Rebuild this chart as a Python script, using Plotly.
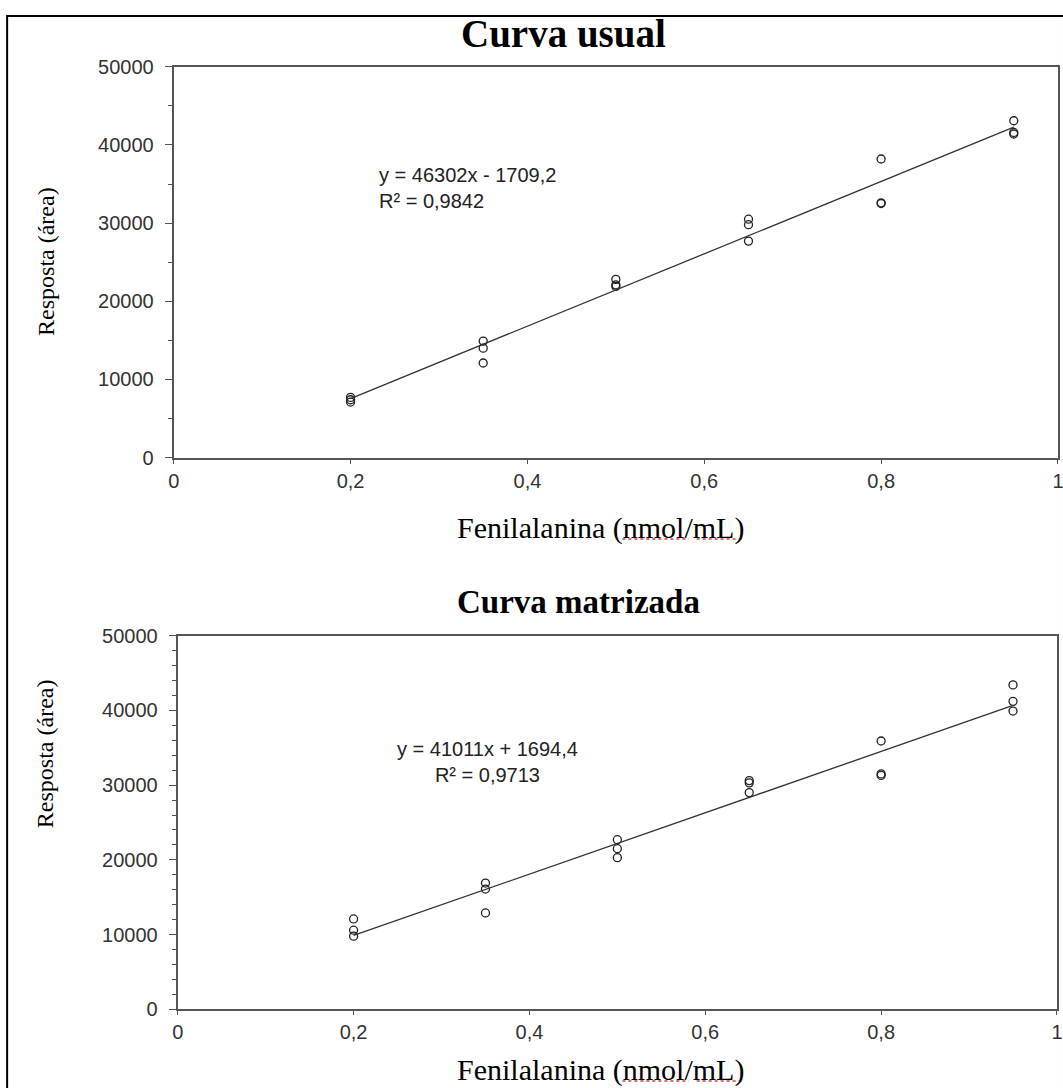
import plotly.graph_objects as go

# ---- data ----
conc_usual = [0.2, 0.2, 0.2, 0.35, 0.35, 0.35, 0.5, 0.5, 0.5, 0.65, 0.65, 0.65, 0.8, 0.8, 0.8, 0.95, 0.95, 0.95]
resp_usual = [7700, 7400, 7100, 14900, 14000, 12100, 22800, 22100, 21900, 30500, 29800, 27700, 38200, 32600, 32500, 43100, 41600, 41400]
slope_usual, icpt_usual = 46302, -1709.2
eq_usual = "y = 46302x - 1709,2<br>R² = 0,9842"

conc_matr = [0.2, 0.2, 0.2, 0.35, 0.35, 0.35, 0.5, 0.5, 0.5, 0.65, 0.65, 0.65, 0.8, 0.8, 0.8, 0.95, 0.95, 0.95]
resp_matr = [12100, 10600, 9800, 16900, 16100, 12900, 22700, 21500, 20300, 30600, 30300, 29000, 35900, 31500, 31300, 43400, 41200, 39900]
slope_matr, icpt_matr = 41011, 1694.4
eq_matr = "y = 41011x + 1694,4<br>R² = 0,9713"

fit_x = [0.2, 0.95]

titles = ["Curva usual", "Curva matrizada"]
x_title = "Fenilalanina (nmol/mL)"
y_title = "Resposta (área)"

# page layout: browser body margin is 8px; figure fills the page
OFF = 8
FW, FH = 1071, 1096
SX, SY = 1063 / 1079, 1088 / 1104
def px(x):
    return (x / SX - OFF) / FW
def py(y):
    return 1 - (y / SY - OFF) / FH

fig = go.Figure()

def add_panel(xs, ys, slope, icpt, ax):
    fig.add_trace(go.Scatter(x=xs, y=ys, mode="markers", xaxis="x" + ax, yaxis="y" + ax,
                             marker=dict(symbol="circle-open", size=8, color="#222",
                                         line=dict(width=1.3, color="#222")),
                             showlegend=False))
    fy = [slope * v + icpt for v in fit_x]
    fig.add_trace(go.Scatter(x=fit_x, y=fy, mode="lines", xaxis="x" + ax, yaxis="y" + ax,
                             line=dict(color="#333", width=1.3), showlegend=False))

add_panel(conc_usual, resp_usual, slope_usual, icpt_usual, "")
add_panel(conc_matr, resp_matr, slope_matr, icpt_matr, "2")

tickfont = dict(family="Liberation Sans, Arial, sans-serif", size=20, color="#333")
axline = dict(showline=True, linecolor="#555", linewidth=2, mirror=True, showgrid=False,
              zeroline=False, ticks="outside", tickcolor="#555", tickfont=tickfont)

fig.update_layout(
    width=FW, height=FH,
    margin=dict(l=0, r=0, t=0, b=0),
    paper_bgcolor="white", plot_bgcolor="white",
    separators=",.",
    showlegend=False,
    xaxis=dict(domain=[px(175), px(1056)], range=[0, 1], dtick=0.2, tick0=0, ticklen=4,
               anchor="y", **axline),
    yaxis=dict(domain=[py(457), py(64)], range=[0, 50000], dtick=10000, tickformat="d",
               ticklen=7, ticklabelstandoff=7, anchor="x",
               minor=dict(dtick=5000, ticklen=4, tickcolor="#555", ticks="outside"), **axline),
    xaxis2=dict(domain=[px(179), px(1055)], range=[0, 1], dtick=0.2, tick0=0, ticklen=4,
                anchor="y2", **axline),
    yaxis2=dict(domain=[py(1012), py(636)], range=[0, 50000], dtick=10000, tickformat="d",
                ticklen=7, ticklabelstandoff=7, anchor="x2",
                minor=dict(dtick=2000, ticklen=4, tickcolor="#555", ticks="outside"), **axline),
)

serif = "Liberation Serif, Times New Roman, serif"
sans = "Liberation Sans, Arial, sans-serif"
ann = []
def add_ann(text, x, y, size, family, color="black", **kw):
    d = dict(text=text, x=px(x), y=py(y), xref="paper", yref="paper", showarrow=False,
             xanchor="center", yanchor="middle", font=dict(family=family, size=size, color=color))
    d.update(kw)
    ann.append(d)

# panel titles
add_ann("<b>" + titles[0] + "</b>", 563, 31, 39, serif)
add_ann("<b>" + titles[1] + "</b>", 578, 602, 33, serif)
# axis titles
add_ann(x_title, 600, 528, 30, serif)
add_ann(x_title, 600, 1073, 30, serif)
add_ann(y_title, 47, 260, 24, serif, textangle=-90)
add_ann(y_title, 47, 755, 24, serif, textangle=-90)
# regression equations
add_ann(eq_usual, 378, 186, 20, sans, color="#222", xanchor="left", align="left")
add_ann(eq_matr, 488, 763, 20, sans, color="#222", align="center")
fig.update_layout(annotations=ann)

# outer frame
fig.add_shape(type="rect", xref="paper", yref="paper", x0=px(9), x1=px(1062), y0=-0.02, y1=py(13),
              line=dict(color="black", width=2), fillcolor="rgba(0,0,0,0)", layer="below")

# red spell-check underlines under "nmol" and "mL"
for yy in [539, 1084]:
    for x0, x1 in [(622, 688), (696, 742)]:
        fig.add_shape(type="line", xref="paper", yref="paper", x0=px(x0), x1=px(x1), y0=py(yy), y1=py(yy),
                      line=dict(color="#d04040", width=1.5, dash="dot"))

fig.write_html("out.html")
